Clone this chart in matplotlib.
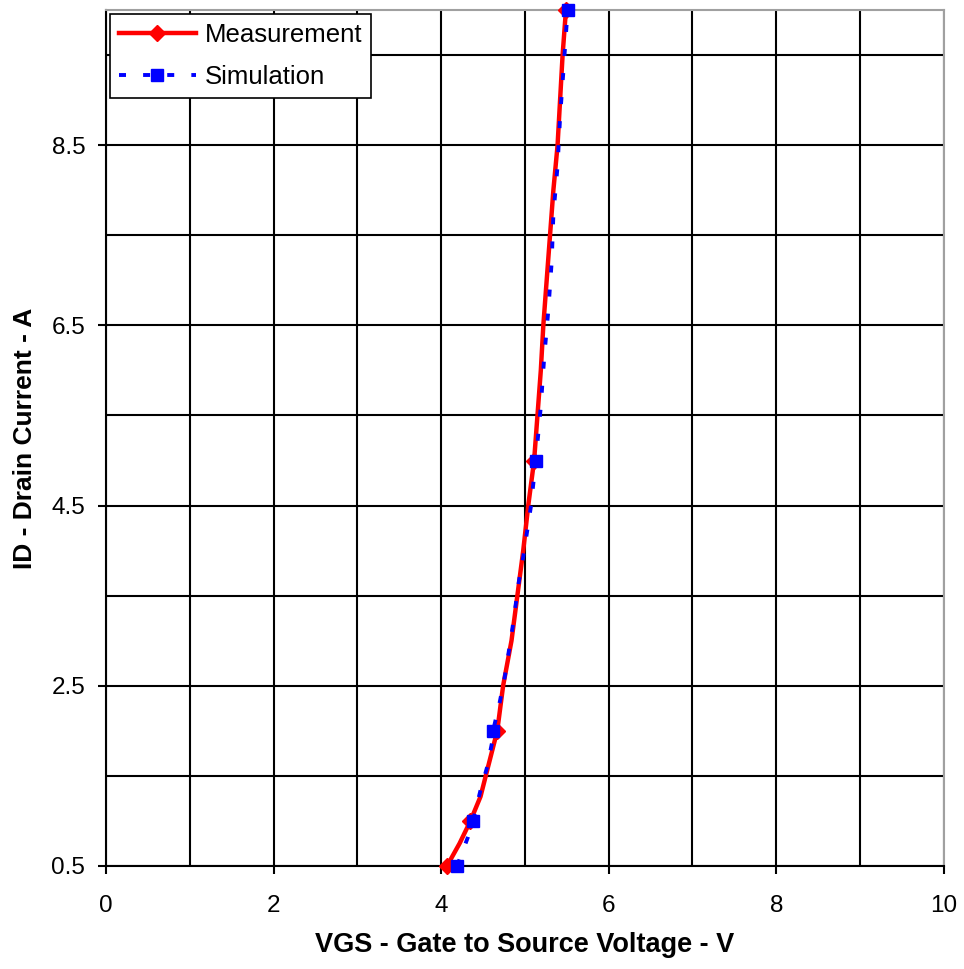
import numpy as np
import matplotlib.pyplot as plt
from matplotlib.ticker import MultipleLocator

plt.rcParams['font.family'] = ['Liberation Sans', 'DejaVu Sans']

# measured transfer curve, VGS (V) vs ID (A)
meas_vgs = [4.07, 4.22, 4.35, 4.47, 4.56, 4.67, 4.74, 4.84, 4.91, 4.98, 5.04,
            5.11, 5.15, 5.19, 5.22, 5.26, 5.30, 5.34, 5.39, 5.42, 5.45, 5.49]
meas_id = [0.5, 0.75, 1.0, 1.27, 1.6, 2.0, 2.5, 3.0, 3.5, 4.0, 4.5,
           5.0, 5.5, 6.0, 6.5, 7.0, 7.5, 8.0, 8.5, 9.0, 9.5, 10.0]
meas_marks = [0, 2, 5, 11, 21]

# model output
sim_vgs = [4.19, 4.32, 4.38, 4.47, 4.55, 4.61, 4.62, 4.70, 4.76, 4.85, 4.93, 4.98,
           5.07, 5.13, 5.19, 5.23, 5.28, 5.32, 5.34, 5.39, 5.42, 5.46, 5.51]
sim_id = [0.5, 0.82, 1.0, 1.34, 1.6, 1.88, 2.0, 2.32, 2.6, 3.13, 3.67, 3.93,
          4.48, 5.0, 5.6, 6.14, 6.67, 7.21, 7.73, 8.27, 8.81, 9.33, 10.0]
sim_marks = [0, 2, 6, 13, 22]

fig = plt.figure(figsize=(9.64, 9.69), dpi=100)
ax = fig.add_axes([0.110, 0.1063, 0.869, 0.8834])

ax.plot(meas_vgs, meas_id, color='#FF0000', lw=3.2, marker='D', markersize=8,
        markevery=meas_marks, label='Measurement', clip_on=False, zorder=3)
ax.plot(sim_vgs, sim_id, color='#0000FF', lw=2.8, linestyle=(0, (1.8, 4.4)),
        dash_capstyle='butt', marker='s', markersize=9, markevery=sim_marks,
        label='Simulation', clip_on=False, zorder=4)

ax.set_xlim(0, 10)
ax.set_ylim(0.5, 10)
ax.xaxis.set_major_locator(MultipleLocator(2))
ax.xaxis.set_minor_locator(MultipleLocator(1))
ax.set_yticks([0.5, 2.5, 4.5, 6.5, 8.5])
ax.set_yticks([1.5, 3.5, 5.5, 7.5, 9.5], minor=True)
ax.set_yticklabels(['0.5', '2.5', '4.5', '6.5', '8.5'])

ax.grid(True, which='both', color='black', lw=1.5)
ax.set_axisbelow(True)
ax.tick_params(which='major', direction='out', length=6, width=1.5,
               labelsize=17.5)
ax.tick_params(axis='x', which='major', pad=15)
ax.tick_params(axis='y', which='major', pad=9)
ax.tick_params(which='minor', length=0)

for side in ['left', 'bottom']:
    ax.spines[side].set_color('black')
    ax.spines[side].set_linewidth(1.5)
for side in ['top', 'right']:
    ax.spines[side].set_color('#A0A0A0')
    ax.spines[side].set_linewidth(1.5)

ax.set_xlabel('VGS - Gate to Source Voltage - V', fontsize=19.5, fontweight='bold',
              labelpad=11)
ax.set_ylabel('ID - Drain Current - A', fontsize=19, fontweight='bold',
              labelpad=10)

leg = ax.legend(loc='upper left', fontsize=18.5, fancybox=False, framealpha=1,
                edgecolor='black', borderaxespad=0.15, handlelength=3.0,
                handletextpad=0.35, borderpad=0.35, labelspacing=0.7)
leg.get_frame().set_linewidth(1.2)

fig.savefig('out.png', dpi=100)
